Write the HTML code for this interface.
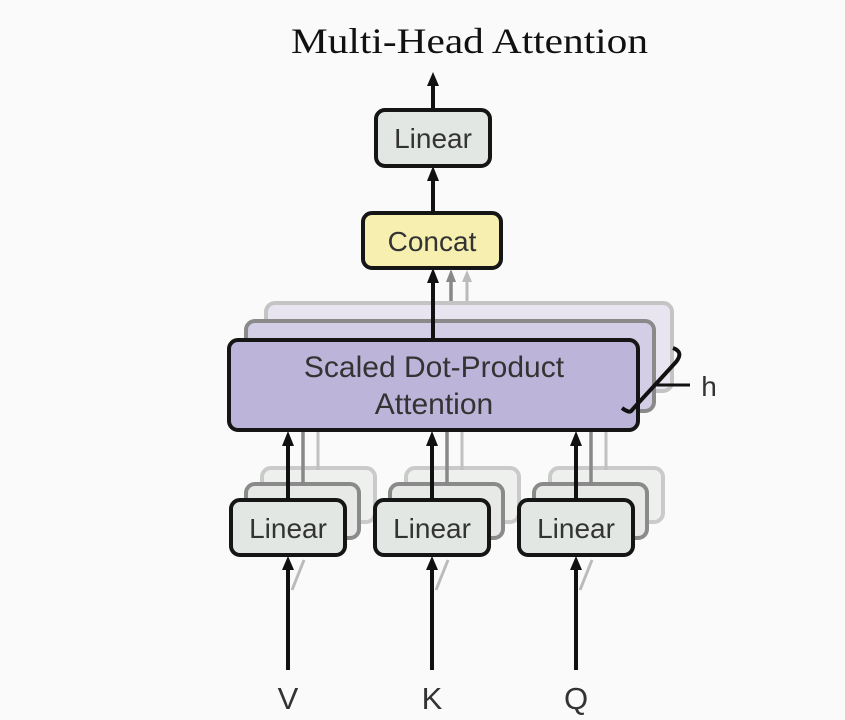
<!DOCTYPE html>
<html><head><style>
html,body{margin:0;padding:0;background:#fafafa;}
svg{display:block}
</style></head><body>
<svg width="845" height="720" viewBox="0 0 845 720" xmlns="http://www.w3.org/2000/svg">
<rect width="845" height="720" fill="#fafafa"/>
<text x="291" y="53" font-family="Liberation Serif, serif" font-size="36" textLength="357" lengthAdjust="spacingAndGlyphs" fill="#111">Multi-Head Attention</text>

<g font-family="Liberation Sans, sans-serif" fill="#333" text-anchor="middle">
<line x1="433" y1="110" x2="433" y2="84" stroke="#111" stroke-width="4"/>
<polygon points="433,72 427,86 439,86" fill="#111"/>
<rect x="376" y="110" width="114" height="56" rx="9" fill="#e3e7e3" stroke="#151515" stroke-width="4"/>
<text x="433" y="148" font-size="28">Linear</text>
<line x1="433" y1="213" x2="433" y2="180" stroke="#111" stroke-width="4"/>
<polygon points="433,166 427,181 439,181" fill="#111"/>
<rect x="363" y="213" width="138" height="55" rx="9" fill="#f6efb0" stroke="#151515" stroke-width="4"/>
<text x="432" y="251" font-size="28">Concat</text>

<line x1="467" y1="305" x2="467" y2="280" stroke="#bbb" stroke-width="3"/>
<polygon points="467,270 462,282 472,282" fill="#bbb"/>
<line x1="451" y1="322" x2="451" y2="280" stroke="#888" stroke-width="3.5"/>
<polygon points="451,269 446,282 456,282" fill="#888"/>

<rect x="266" y="303" width="406" height="88" rx="9" fill="#e8e4f0" stroke="#c4c4c4" stroke-width="4"/>
<rect x="246" y="321" width="408" height="90" rx="9" fill="#d3cde6" stroke="#8a8a8a" stroke-width="4"/>
<line x1="433" y1="340" x2="433" y2="282" stroke="#111" stroke-width="4"/>
<polygon points="433,268 427,283 439,283" fill="#111"/>
<rect x="229" y="340" width="409" height="90" rx="9" fill="#bdb4d9" stroke="#151515" stroke-width="4"/>
<text x="434" y="377" font-size="30">Scaled Dot-Product</text>
<text x="434" y="414" font-size="30">Attention</text>
<path d="M673,348 Q684,352 676,362 L632,410 Q630,414 622,408" fill="none" stroke="#111" stroke-width="4"/>
<line x1="656" y1="385" x2="690" y2="385" stroke="#111" stroke-width="3"/>
<text x="709" y="396" font-size="28">h</text>
</g>
<g font-family="Liberation Sans, sans-serif" fill="#333" text-anchor="middle">
<rect x="262" y="468" width="113" height="54" rx="9" fill="#eef0ee" stroke="#cacaca" stroke-width="4"/>
<rect x="246" y="484" width="113" height="54" rx="9" fill="#e6e9e6" stroke="#8a8a8a" stroke-width="4"/>
<line x1="318" y1="470" x2="318" y2="432" stroke="#c0c0c0" stroke-width="3"/>
<line x1="303" y1="486" x2="303" y2="432" stroke="#888" stroke-width="3.5"/>
<rect x="231" y="500" width="114" height="55" rx="9" fill="#e3e7e3" stroke="#151515" stroke-width="4"/>
<text x="288" y="538" font-size="28">Linear</text>
<line x1="288" y1="500" x2="288" y2="446" stroke="#111" stroke-width="4"/>
<polygon points="288,431 282,446 294,446" fill="#111"/>
<line x1="288" y1="670" x2="288" y2="569" stroke="#111" stroke-width="4"/>
<polygon points="288,556 282,570 294,570" fill="#111"/>
<line x1="292" y1="590" x2="304" y2="560" stroke="#bbb" stroke-width="3"/>
<text x="288" y="709" font-size="31">V</text>

<rect x="406" y="468" width="113" height="54" rx="9" fill="#eef0ee" stroke="#cacaca" stroke-width="4"/>
<rect x="390" y="484" width="113" height="54" rx="9" fill="#e6e9e6" stroke="#8a8a8a" stroke-width="4"/>
<line x1="462" y1="470" x2="462" y2="432" stroke="#c0c0c0" stroke-width="3"/>
<line x1="447" y1="486" x2="447" y2="432" stroke="#888" stroke-width="3.5"/>
<rect x="375" y="500" width="114" height="55" rx="9" fill="#e3e7e3" stroke="#151515" stroke-width="4"/>
<text x="432" y="538" font-size="28">Linear</text>
<line x1="432" y1="500" x2="432" y2="446" stroke="#111" stroke-width="4"/>
<polygon points="432,431 426,446 438,446" fill="#111"/>
<line x1="432" y1="670" x2="432" y2="569" stroke="#111" stroke-width="4"/>
<polygon points="432,556 426,570 438,570" fill="#111"/>
<line x1="436" y1="590" x2="448" y2="560" stroke="#bbb" stroke-width="3"/>
<text x="432" y="709" font-size="31">K</text>

<rect x="550" y="468" width="113" height="54" rx="9" fill="#eef0ee" stroke="#cacaca" stroke-width="4"/>
<rect x="534" y="484" width="113" height="54" rx="9" fill="#e6e9e6" stroke="#8a8a8a" stroke-width="4"/>
<line x1="606" y1="470" x2="606" y2="432" stroke="#c0c0c0" stroke-width="3"/>
<line x1="591" y1="486" x2="591" y2="432" stroke="#888" stroke-width="3.5"/>
<rect x="519" y="500" width="114" height="55" rx="9" fill="#e3e7e3" stroke="#151515" stroke-width="4"/>
<text x="576" y="538" font-size="28">Linear</text>
<line x1="576" y1="500" x2="576" y2="446" stroke="#111" stroke-width="4"/>
<polygon points="576,431 570,446 582,446" fill="#111"/>
<line x1="576" y1="670" x2="576" y2="569" stroke="#111" stroke-width="4"/>
<polygon points="576,556 570,570 582,570" fill="#111"/>
<line x1="580" y1="590" x2="592" y2="560" stroke="#bbb" stroke-width="3"/>
<text x="576" y="709" font-size="31">Q</text>
</g>
</svg>
</body></html>
